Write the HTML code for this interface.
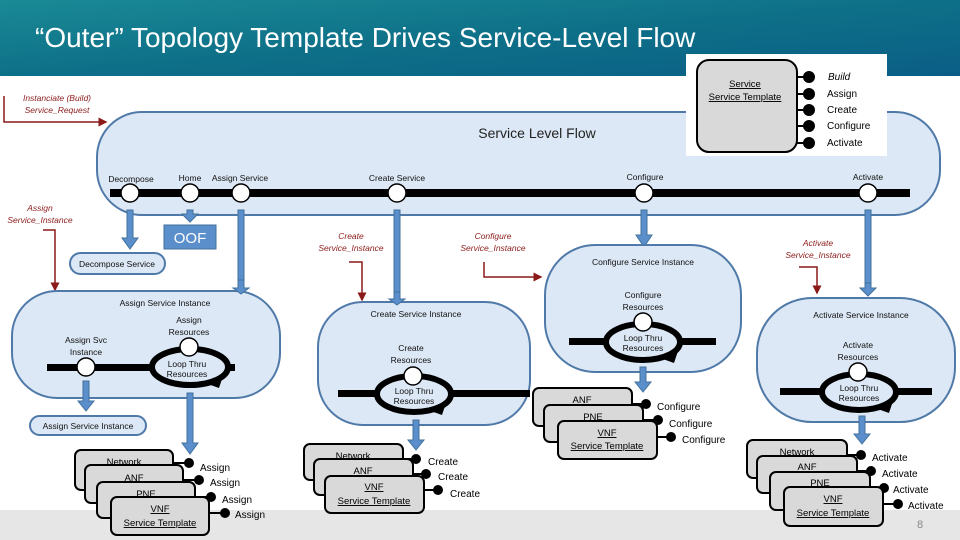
<!DOCTYPE html>
<html><head><meta charset="utf-8"><style>
body{margin:0;width:960px;height:540px;overflow:hidden;background:#fff}
svg{display:block}
text{font-family:"Liberation Sans",sans-serif}
.s{font-size:8.5px;fill:#111;text-anchor:middle}
.r{font-size:8.5px;fill:#8b1a1a;font-style:italic;text-anchor:middle}
.pill{fill:#dce8f5;stroke:#4f79a8;stroke-width:2}
.box{fill:#d9d9d9;stroke:#000;stroke-width:2}
.bt{font-size:9.5px;fill:#000;text-anchor:middle;text-decoration:underline}
.pl{font-size:10px;fill:#000}
.ba{fill:#5b8fcc;stroke:#41719c;stroke-width:1}
</style></head><body>
<svg width="960" height="540" viewBox="0 0 960 540">
<defs>
<linearGradient id="hg" x1="0" y1="0" x2="1" y2="1">
<stop offset="0" stop-color="#1a8a96"/><stop offset="0.5" stop-color="#0e7088"/><stop offset="1" stop-color="#0a5e86"/>
</linearGradient>
<marker id="ra" markerWidth="6" markerHeight="6" refX="5" refY="3" orient="auto"><path d="M0,0 L6,3 L0,6z" fill="#8b1a1a"/></marker>
</defs>
<rect x="0" y="0" width="960" height="76" fill="url(#hg)"/>
<text x="35" y="47" font-size="28" fill="#fff" style="font-family:'Liberation Sans',sans-serif">“Outer” Topology Template Drives Service-Level Flow</text>
<rect x="0" y="510" width="960" height="30" fill="#e6e6e6"/>
<text x="920" y="528" font-size="11" fill="#888" text-anchor="middle">8</text>

<!-- main pill -->
<rect class="pill" x="97" y="112" width="843" height="103" rx="45"/>
<text x="537" y="138" font-size="14" fill="#222" text-anchor="middle">Service Level Flow</text>
<rect x="110" y="189" width="800" height="8" fill="#000"/>
<g fill="#fff" stroke="#000" stroke-width="1.5">
<circle cx="130" cy="193" r="9"/><circle cx="190" cy="193" r="9"/><circle cx="241" cy="193" r="9"/>
<circle cx="397" cy="193" r="9"/><circle cx="644" cy="193" r="9"/><circle cx="868" cy="193" r="9"/>
</g>
<text class="s" x="131" y="182">Decompose</text>
<text class="s" x="190" y="181">Home</text>
<text class="s" x="240" y="181">Assign Service</text>
<text class="s" x="397" y="181">Create Service</text>
<text class="s" x="645" y="180">Configure</text>
<text class="s" x="868" y="180">Activate</text>

<!-- template box -->
<rect x="686" y="54" width="201" height="102" fill="#fff"/>
<rect class="box" x="697" y="60" width="100" height="92" rx="12"/>
<text class="bt" x="745" y="87" font-size="9">Service</text>
<text class="bt" x="745" y="100" font-size="9">Service Template</text>
<g fill="#000" stroke="#000" stroke-width="2">
<line x1="797" y1="77" x2="808" y2="77"/><circle cx="809" cy="77" r="5"/>
<line x1="797" y1="94" x2="808" y2="94"/><circle cx="809" cy="94" r="5"/>
<line x1="797" y1="110" x2="808" y2="110"/><circle cx="809" cy="110" r="5"/>
<line x1="797" y1="126" x2="808" y2="126"/><circle cx="809" cy="126" r="5"/>
<line x1="797" y1="143" x2="808" y2="143"/><circle cx="809" cy="143" r="5"/>
</g>
<text class="pl" x="828" y="80" font-style="italic">Build</text>
<text class="pl" x="827" y="97">Assign</text>
<text class="pl" x="827" y="113">Create</text>
<text class="pl" x="827" y="129">Configure</text>
<text class="pl" x="827" y="146">Activate</text>

<!-- blue arrows -->
<path class="ba" d="M127 210h6v28h5l-8 11-8-11h5z"/>
<path class="ba" d="M187 210h6v4h5l-8 8-8-8h5z"/>
<rect x="164" y="225" width="52" height="24" fill="#5b8fcc" stroke="#41719c"/>
<text x="190" y="243" font-size="15" fill="#fff" text-anchor="middle">OOF</text>
<rect class="ba" x="238" y="210" width="6" height="80"/>
<rect class="ba" x="394" y="210" width="6" height="93"/>
<path class="ba" d="M641 210h6v25h5l-8 12-8-12h5z"/>
<rect class="ba" x="865" y="210" width="6" height="75"/>

<!-- decompose pill -->
<rect class="pill" x="70" y="253" width="95" height="21" rx="10.5"/>
<text class="s" x="117" y="267">Decompose Service</text>

<!-- red annotations -->
<text class="r" x="57" y="101">Instanciate (Build)</text>
<text class="r" x="57" y="113">Service_Request</text>
<path d="M4 96V122H106" stroke="#8b1a1a" stroke-width="1.5" fill="none" marker-end="url(#ra)"/>
<text class="r" x="40" y="211">Assign</text>
<text class="r" x="40" y="223">Service_Instance</text>
<path d="M43 230H55V290" stroke="#8b1a1a" stroke-width="1.5" fill="none" marker-end="url(#ra)"/>
<text class="r" x="351" y="239">Create</text>
<text class="r" x="351" y="251">Service_Instance</text>
<path d="M349 262H362V300" stroke="#8b1a1a" stroke-width="1.5" fill="none" marker-end="url(#ra)"/>
<text class="r" x="493" y="239">Configure</text>
<text class="r" x="493" y="251">Service_Instance</text>
<path d="M484 262V277H541" stroke="#8b1a1a" stroke-width="1.5" fill="none" marker-end="url(#ra)"/>
<text class="r" x="818" y="246">Activate</text>
<text class="r" x="818" y="258">Service_Instance</text>
<path d="M799 267H817V293" stroke="#8b1a1a" stroke-width="1.5" fill="none" marker-end="url(#ra)"/>

<!-- Assign pill -->
<rect class="pill" x="12" y="291" width="268" height="107" rx="45"/>
<path class="ba" d="M238 280h6v8h5l-8 6-8-6h5z"/>
<text class="s" x="165" y="306">Assign Service Instance</text>
<text class="s" x="86" y="343">Assign Svc</text><text class="s" x="86" y="355">Instance</text>
<text class="s" x="189" y="323">Assign</text><text class="s" x="189" y="335">Resources</text>
<rect x="47" y="364" width="188" height="7" fill="#000"/>
<ellipse cx="190" cy="367" rx="38" ry="18" fill="#dce8f5" stroke="#000" stroke-width="6"/>
<path d="M205 383l18-7-4 12z" fill="#000"/>
<circle cx="86" cy="367" r="9" fill="#fff" stroke="#000" stroke-width="1.5"/>
<circle cx="189" cy="347" r="9" fill="#fff" stroke="#000" stroke-width="1.5"/>
<text class="s" x="187" y="367" font-size="7">Loop Thru</text><text class="s" x="187" y="377" font-size="7">Resources</text>
<path class="ba" d="M83 381h6v20h5l-8 10-8-10h5z"/>
<rect class="pill" x="30" y="416" width="116" height="19" rx="9.5"/>
<text class="s" x="88" y="429">Assign Service Instance</text>
<path class="ba" d="M187 393h6v50h5l-8 11-8-11h5z"/>

<!-- Assign stack -->
<g>
<line x1="173" y1="463" x2="188" y2="463" stroke="#000" stroke-width="2"/><circle cx="189" cy="463" r="5"/>
<rect class="box" x="75" y="450" width="98" height="40" rx="6"/><text class="bt" x="124" y="465" font-size="9">Network</text>
<line x1="183" y1="480" x2="198" y2="480" stroke="#000" stroke-width="2"/><circle cx="199" cy="480" r="5"/>
<rect class="box" x="85" y="465" width="98" height="38" rx="6"/><text class="bt" x="134" y="481" font-size="9">ANF</text>
<line x1="195" y1="497" x2="210" y2="497" stroke="#000" stroke-width="2"/><circle cx="211" cy="497" r="5"/>
<rect class="box" x="97" y="482" width="98" height="36" rx="6"/><text class="bt" x="146" y="497" font-size="9">PNE</text>
<line x1="209" y1="513" x2="224" y2="513" stroke="#000" stroke-width="2"/><circle cx="225" cy="513" r="5"/>
<rect class="box" x="111" y="497" width="98" height="38" rx="6"/>
<text class="bt" x="160" y="512" font-size="9">VNF</text><text class="bt" x="160" y="526" font-size="9">Service Template</text>
<text class="pl" x="200" y="471">Assign</text><text class="pl" x="210" y="486">Assign</text>
<text class="pl" x="222" y="503">Assign</text><text class="pl" x="235" y="518">Assign</text>
</g>

<!-- Create pill -->
<rect class="pill" x="318" y="302" width="212" height="123" rx="45"/>
<path class="ba" d="M394 292h6v7h5l-8 6-8-6h5z"/>
<text class="s" x="416" y="317">Create Service Instance</text>
<text class="s" x="411" y="351">Create</text><text class="s" x="411" y="363">Resources</text>
<rect x="338" y="390" width="192" height="7" fill="#000"/>
<ellipse cx="414" cy="394" rx="37" ry="18" fill="#dce8f5" stroke="#000" stroke-width="6"/>
<path d="M428 410l18-7-4 12z" fill="#000"/>
<circle cx="413" cy="376" r="9" fill="#fff" stroke="#000" stroke-width="1.5"/>
<text class="s" x="414" y="394" font-size="7">Loop Thru</text><text class="s" x="414" y="404" font-size="7">Resources</text>
<path class="ba" d="M413 420h6v20h5l-8 10-8-10h5z"/>
<g>
<line x1="403" y1="459" x2="415" y2="459" stroke="#000" stroke-width="2"/><circle cx="416" cy="459" r="5"/>
<rect class="box" x="304" y="444" width="99" height="36" rx="6"/><text class="bt" x="353" y="459" font-size="9">Network</text>
<line x1="413" y1="474" x2="425" y2="474" stroke="#000" stroke-width="2"/><circle cx="426" cy="474" r="5"/>
<rect class="box" x="314" y="459" width="99" height="36" rx="6"/><text class="bt" x="363" y="474" font-size="9">ANF</text>
<line x1="424" y1="490" x2="437" y2="490" stroke="#000" stroke-width="2"/><circle cx="438" cy="490" r="5"/>
<rect class="box" x="325" y="476" width="99" height="37" rx="6"/>
<text class="bt" x="374" y="490" font-size="9">VNF</text><text class="bt" x="374" y="504" font-size="9">Service Template</text>
<text class="pl" x="428" y="465">Create</text><text class="pl" x="438" y="480">Create</text><text class="pl" x="450" y="497">Create</text>
</g>

<!-- Configure pill -->
<rect class="pill" x="545" y="245" width="196" height="127" rx="50"/>
<text class="s" x="643" y="265">Configure Service Instance</text>
<text class="s" x="643" y="298">Configure</text><text class="s" x="643" y="310">Resources</text>
<rect x="569" y="338" width="147" height="7" fill="#000"/>
<ellipse cx="643" cy="342" rx="37" ry="18" fill="#dce8f5" stroke="#000" stroke-width="6"/>
<path d="M660 358l18-7-4 12z" fill="#000"/>
<circle cx="643" cy="322" r="9" fill="#fff" stroke="#000" stroke-width="1.5"/>
<text class="s" x="643" y="341" font-size="7">Loop Thru</text><text class="s" x="643" y="351" font-size="7">Resources</text>
<path class="ba" d="M640 367h6v15h5l-8 10-8-10h5z"/>
<g>
<line x1="632" y1="404" x2="645" y2="404" stroke="#000" stroke-width="2"/><circle cx="646" cy="404" r="5"/>
<rect class="box" x="533" y="388" width="99" height="38" rx="6"/><text class="bt" x="582" y="403" font-size="9">ANF</text>
<line x1="643" y1="420" x2="657" y2="420" stroke="#000" stroke-width="2"/><circle cx="658" cy="420" r="5"/>
<rect class="box" x="544" y="405" width="99" height="37" rx="6"/><text class="bt" x="593" y="420" font-size="9">PNE</text>
<line x1="657" y1="437" x2="670" y2="437" stroke="#000" stroke-width="2"/><circle cx="671" cy="437" r="5"/>
<rect class="box" x="558" y="421" width="99" height="38" rx="6"/>
<text class="bt" x="607" y="436" font-size="9">VNF</text><text class="bt" x="607" y="449" font-size="9">Service Template</text>
<text class="pl" x="657" y="410">Configure</text><text class="pl" x="669" y="427">Configure</text><text class="pl" x="682" y="443">Configure</text>
</g>

<!-- Activate pill -->
<rect class="pill" x="757" y="298" width="198" height="124" rx="55"/>
<path class="ba" d="M865 283h6v5h5l-8 8-8-8h5z"/>
<text class="s" x="861" y="318">Activate Service Instance</text>
<text class="s" x="858" y="348">Activate</text><text class="s" x="858" y="360">Resources</text>
<rect x="780" y="388" width="152" height="7" fill="#000"/>
<ellipse cx="859" cy="392" rx="37" ry="18" fill="#dce8f5" stroke="#000" stroke-width="6"/>
<path d="M875 408l18-7-4 12z" fill="#000"/>
<circle cx="858" cy="372" r="9" fill="#fff" stroke="#000" stroke-width="1.5"/>
<text class="s" x="859" y="391" font-size="7">Loop Thru</text><text class="s" x="859" y="401" font-size="7">Resources</text>
<path class="ba" d="M859 416h6v18h5l-8 10-8-10h5z"/>
<g>
<line x1="847" y1="455" x2="860" y2="455" stroke="#000" stroke-width="2"/><circle cx="861" cy="455" r="5"/>
<rect class="box" x="747" y="440" width="100" height="38" rx="6"/><text class="bt" x="797" y="455" font-size="9">Network</text>
<line x1="857" y1="471" x2="870" y2="471" stroke="#000" stroke-width="2"/><circle cx="871" cy="471" r="5"/>
<rect class="box" x="757" y="456" width="100" height="37" rx="6"/><text class="bt" x="807" y="470" font-size="9">ANF</text>
<line x1="870" y1="488" x2="883" y2="488" stroke="#000" stroke-width="2"/><circle cx="884" cy="488" r="5"/>
<rect class="box" x="770" y="472" width="100" height="38" rx="6"/><text class="bt" x="820" y="486" font-size="9">PNE</text>
<line x1="883" y1="504" x2="897" y2="504" stroke="#000" stroke-width="2"/><circle cx="898" cy="504" r="5"/>
<rect class="box" x="784" y="487" width="99" height="39" rx="6"/>
<text class="bt" x="833" y="502" font-size="9">VNF</text><text class="bt" x="833" y="516" font-size="9">Service Template</text>
<text class="pl" x="872" y="461">Activate</text><text class="pl" x="882" y="477">Activate</text>
<text class="pl" x="893" y="493">Activate</text><text class="pl" x="908" y="509">Activate</text>
</g>
</svg>
</body></html>
